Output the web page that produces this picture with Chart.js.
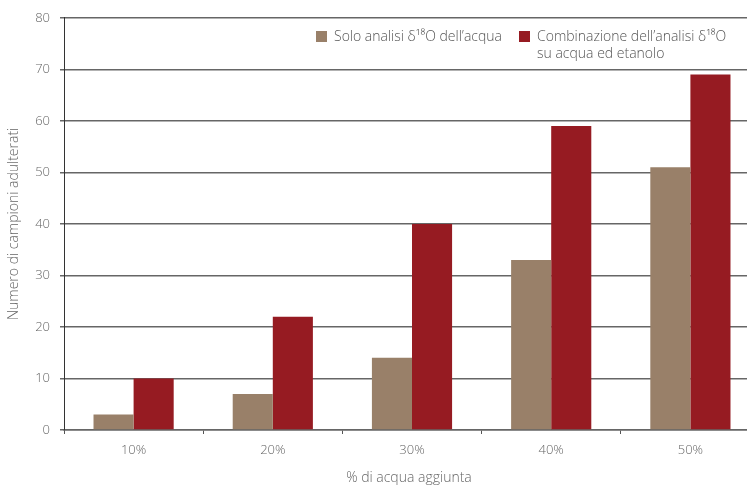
<!DOCTYPE html>
<html>
<head>
<meta charset="utf-8">
<script src="https://cdn.jsdelivr.net/npm/chart.js@4.4.1/dist/chart.umd.min.js"></script>
<style>
  html, body { margin: 0; padding: 0; background: #fff; overflow: hidden; width: 747px; height: 487px; }
  #wrap { position: relative; width: 760px; height: 487px; }
  #legend { position: absolute; left: 0; top: 0; font-family: "Open Sans", Lato, sans-serif; font-weight: 300; font-size: 14px; color: #555; }
  .item { position: absolute; line-height: 17px; white-space: nowrap; }
  .sw { position: absolute; width: 11px; height: 11px; }
</style>
</head>
<body>
<div id="wrap">
  <canvas id="c" width="760" height="487"></canvas>
  <div id="legend"></div>
</div>
<script>
const categories = ['10%', '20%', '30%', '40%', '50%'];
const seriesNames = ['Solo analisi δ¹⁸O dell’acqua', 'Combinazione dell’analisi δ¹⁸O\nsu acqua ed etanolo'];
const soloAcqua = [3, 7, 14, 33, 51];
const combinazione = [10, 22, 40, 59, 69];
const yTicks = [0, 10, 20, 30, 40, 50, 60, 70, 80];
const xTitle = '% di acqua aggiunta';
const yTitle = 'Numero di campioni adulterati';
const colors = ['#998069', '#961b22'];

const FONT = '"Open Sans", Lato, sans-serif';

const xTitlePlugin = {
  id: 'xTitle',
  afterDraw(chart) {
    const ctx = chart.ctx;
    ctx.save();
    ctx.font = '300 14px ' + FONT;
    ctx.fillStyle = '#666';
    ctx.textAlign = 'center';
    ctx.textBaseline = 'middle';
    ctx.fillText(xTitle, 409, 478);
    ctx.restore();
  }
};

new Chart(document.getElementById('c'), {
  type: 'bar',
  data: {
    labels: categories,
    datasets: [
      { label: seriesNames[0], data: soloAcqua, backgroundColor: colors[0], categoryPercentage: 0.576, barPercentage: 1 },
      { label: seriesNames[1], data: combinazione, backgroundColor: colors[1], categoryPercentage: 0.576, barPercentage: 1 }
    ]
  },
  options: {
    responsive: false,
    animation: false,
    devicePixelRatio: 1,
    layout: { padding: { top: 17, right: 0, left: 0, bottom: 0 } },
    plugins: { legend: { display: false }, tooltip: { enabled: false } },
    scales: {
      x: {
        offset: true,
        grid: { offset: true, drawOnChartArea: false, drawTicks: true, tickLength: 4, color: '#555', lineWidth: 1 },
        border: { display: true, color: '#666', width: 1.5 },
        ticks: { color: '#666', font: { family: FONT, size: 13, weight: '300' }, padding: 8 },
        afterFit(s) { s.height = 57; }
      },
      y: {
        min: 0, max: 80,
        afterBuildTicks(s) { s.ticks = yTicks.map(v => ({ value: v })); },
        grid: { color: '#666', lineWidth: 1.5, tickLength: 4, tickColor: '#666' },
        border: { display: true, color: '#333', width: 1 },
        ticks: { color: '#666', font: { family: FONT, size: 13, weight: '300' }, padding: 10 },
        title: { display: true, text: yTitle, color: '#666', font: { family: FONT, size: 14, weight: '300' }, padding: { top: 6, bottom: 4 } },
        afterFit(s) { s.width = 64; }
      }
    }
  },
  plugins: [xTitlePlugin]
});

// HTML legend
const legend = document.getElementById('legend');
const pos = [{ sx: 316, sy: 31, tx: 334, ty: 27 }, { sx: 519, sy: 31, tx: 537, ty: 27 }];
seriesNames.forEach((name, i) => {
  const sw = document.createElement('div');
  sw.className = 'sw';
  sw.style.left = pos[i].sx + 'px';
  sw.style.top = pos[i].sy + 'px';
  sw.style.background = colors[i];
  legend.appendChild(sw);
  const t = document.createElement('div');
  t.className = 'item';
  t.style.left = pos[i].tx + 'px';
  t.style.top = pos[i].ty + 'px';
  t.innerHTML = name.split('\n').join('<br>');
  legend.appendChild(t);
});
</script>
</body>
</html>
